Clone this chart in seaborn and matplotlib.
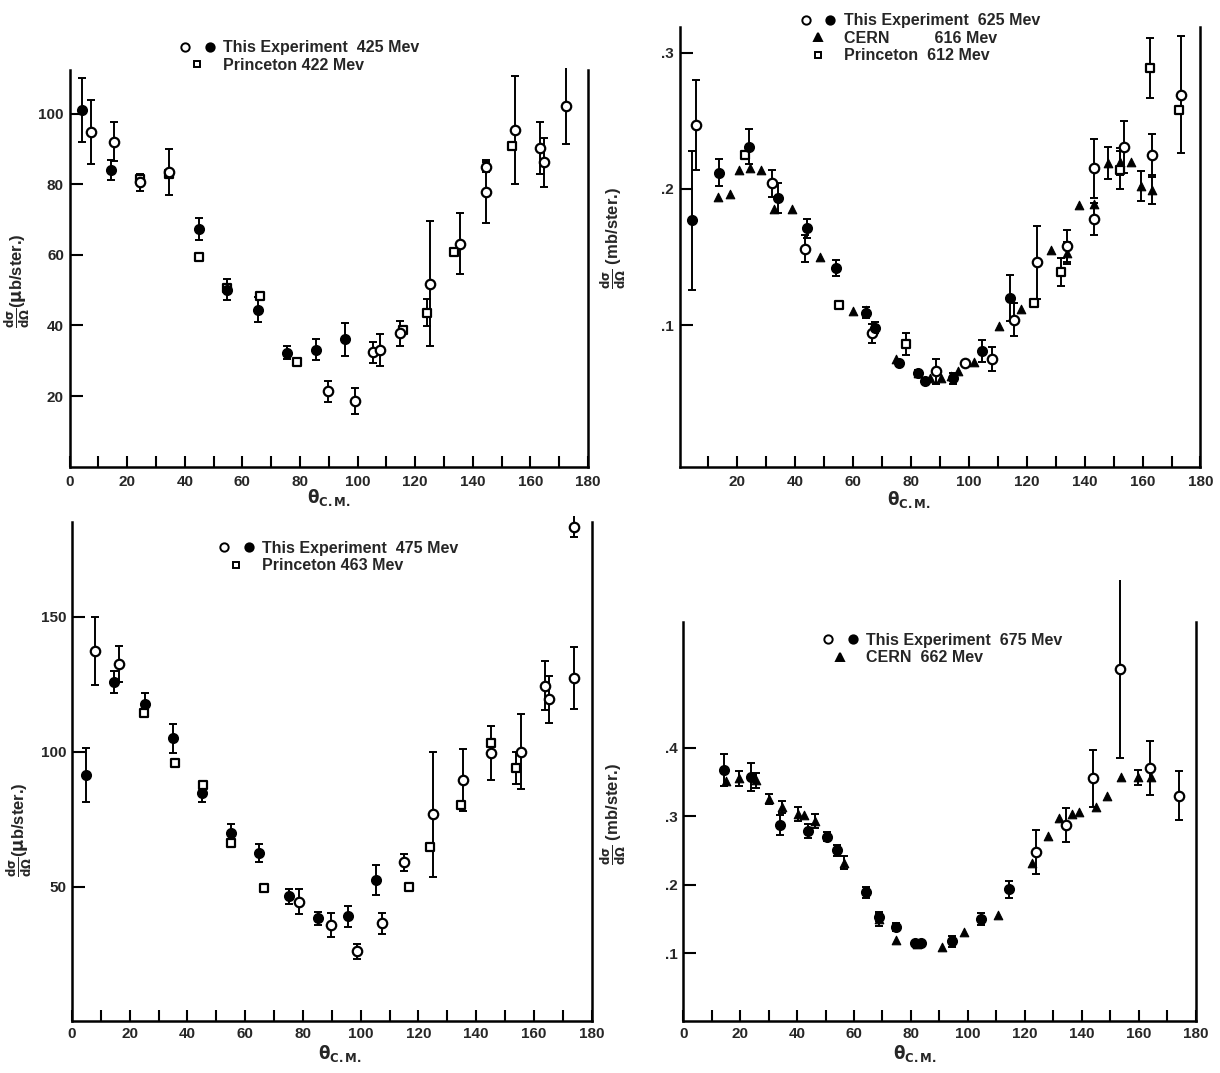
import numpy as np
import pandas as pd
import matplotlib
matplotlib.use("Agg")
import matplotlib.pyplot as plt
import seaborn as sns
from matplotlib.lines import Line2D
from matplotlib.legend_handler import HandlerTuple

# ---- 425 Mev panel ----
exp425_filled_x = [4.4, 14.5, 45.0, 54.6, 65.4, 75.6, 85.6, 95.5]
exp425_filled_y = [101.0, 84.0, 67.4, 50.1, 44.5, 32.3, 33.1, 36.1]
exp425_filled_err = [9.0, 2.8, 3.1, 3.0, 3.5, 1.9, 3.0, 4.7]
exp425_open_x = [7.5, 15.6, 24.4, 34.4, 89.7, 99.2, 105.3, 107.7, 114.8, 125.1,
                 135.4, 144.5, 144.6, 154.6, 163.3, 164.6, 172.4]
exp425_open_y = [94.8, 92.0, 80.5, 83.5, 21.4, 18.7, 32.4, 33.0, 37.8, 51.8,
                 63.2, 84.9, 77.9, 95.3, 90.2, 86.2, 102.2]
exp425_open_err = [9.0, 5.5, 2.3, 6.5, 3.0, 3.7, 3.0, 4.5, 3.6, 17.7,
                   8.6, 1.5, 9.0, 15.3, 7.3, 7.0, 10.8]
prin422_x = [24.4, 34.4, 45.0, 54.6, 66.0, 79.0, 115.6, 124.0, 133.6, 153.5]
prin422_y = [81.5, 83.0, 59.3, 50.5, 48.3, 29.7, 38.6, 43.6, 60.9, 90.8]
prin422_err = [0, 0, 0, 0, 0, 0, 0, 3.8, 0, 0]

# ---- 625 Mev panel ----
exp625_filled_x = [4.35, 13.8, 23.9, 34.0, 44.0, 54.0, 64.3, 67.4, 76.0, 82.5,
                   84.8, 94.5, 104.5, 114.1]
exp625_filled_y = [0.177, 0.212, 0.231, 0.193, 0.171, 0.142, 0.109, 0.098, 0.072,
                   0.065, 0.059, 0.061, 0.081, 0.120]
exp625_filled_err = [0.051, 0.010, 0.013, 0.011, 0.007, 0.006, 0.004, 0.004, 0.002,
                     0.002, 0.002, 0.004, 0.008, 0.017]
exp625_open_x = [5.6, 31.9, 43.5, 66.5, 88.5, 98.7, 108.1, 115.6, 123.6, 134.0,
                 143.2, 143.2, 153.5, 163.4, 173.2]
exp625_open_y = [0.247, 0.204, 0.156, 0.094, 0.066, 0.072, 0.075, 0.104, 0.146,
                 0.158, 0.215, 0.178, 0.231, 0.225, 0.269]
exp625_open_err = [0.033, 0.010, 0.010, 0.007, 0.009, 0, 0.009, 0.012, 0.027,
                   0.012, 0.022, 0.012, 0.019, 0.015, 0.043]
cern616_x = [13.2, 17.5, 20.7, 24.3, 28.0, 32.8, 38.9, 48.4, 59.8, 64.4, 74.9,
             82.5, 86.6, 90.4, 93.9, 96.1, 101.6, 110.4, 118.1, 128.3, 133.8,
             138.1, 143.3, 148.0, 152.1, 155.9, 159.6, 163.4]
cern616_y = [0.194, 0.196, 0.214, 0.215, 0.214, 0.185, 0.185, 0.150, 0.110, 0.111,
             0.075, 0.065, 0.061, 0.061, 0.063, 0.066, 0.073, 0.099, 0.112, 0.155,
             0.153, 0.188, 0.189, 0.219, 0.220, 0.220, 0.202, 0.199]
cern616_err = [0, 0, 0, 0, 0, 0, 0, 0, 0, 0, 0, 0, 0, 0, 0, 0, 0, 0, 0, 0,
               0.008, 0, 0, 0.012, 0.010, 0, 0.011, 0.010]
prin612_x = [22.7, 55.2, 78.4, 122.6, 131.7, 152.1, 162.6, 172.5]
prin612_y = [0.225, 0.115, 0.086, 0.116, 0.139, 0.214, 0.289, 0.258]
prin612_err = [0, 0, 0.008, 0, 0.010, 0.014, 0.022, 0]

# ---- 475 Mev panel ----
exp475_filled_x = [4.8, 14.7, 25.2, 35.0, 45.0, 55.2, 64.8, 75.3, 85.2, 95.5, 105.4]
exp475_filled_y = [91.3, 125.7, 117.7, 104.9, 84.7, 69.7, 62.4, 46.4, 38.3, 38.9, 52.3]
exp475_filled_err = [10.0, 4.0, 3.8, 5.3, 3.3, 3.3, 3.4, 2.8, 2.4, 3.8, 5.5]
exp475_open_x = [7.9, 16.4, 78.7, 89.7, 98.6, 107.5, 115.0, 125.2, 135.3, 145.0,
                 155.5, 163.9, 165.3, 173.9, 173.9]
exp475_open_y = [137.3, 132.4, 44.3, 35.7, 26.0, 36.4, 58.9, 76.7, 89.3, 99.6,
                 100.0, 124.4, 119.3, 183.3, 127.1]
exp475_open_err = [12.6, 6.8, 4.6, 4.5, 2.8, 3.9, 3.3, 23.0, 11.5, 10.0,
                   14.0, 9.0, 8.6, 4.0, 11.5]
prin463_x = [25.0, 35.7, 45.3, 55.2, 66.4, 116.6, 124.1, 134.6, 145.2, 153.8]
prin463_y = [114.4, 95.6, 87.7, 66.0, 49.3, 50.0, 64.7, 80.3, 103.3, 94.0]
prin463_err = [0, 0, 0, 0, 0, 0, 0, 0, 0, 6.0]

# ---- 675 Mev panel ----
exp675_filled_x = [14.3, 23.8, 34.0, 43.9, 50.5, 53.9, 64.1, 68.7, 74.6, 81.4,
                   83.4, 94.3, 104.5, 114.4]
exp675_filled_y = [0.367, 0.357, 0.287, 0.278, 0.270, 0.250, 0.189, 0.152, 0.138,
                   0.114, 0.114, 0.117, 0.150, 0.193]
exp675_filled_err = [0.023, 0.021, 0.015, 0.010, 0.007, 0.008, 0.008, 0.005, 0.006,
                     0, 0, 0.008, 0.009, 0.012]
exp675_open_x = [123.9, 134.4, 143.9, 153.5, 164.1, 174.3]
exp675_open_y = [0.248, 0.287, 0.355, 0.515, 0.370, 0.330]
exp675_open_err = [0.032, 0.025, 0.042, 0.130, 0.039, 0.036]
cern662_x = [15.1, 19.7, 25.6, 30.3, 34.7, 40.5, 42.3, 46.4, 56.5, 68.7, 74.8,
             82.0, 90.9, 98.8, 110.6, 122.6, 128.3, 132.1, 136.5, 139.2, 144.9,
             149.0, 153.7, 159.6, 164.4]
cern662_y = [0.351, 0.355, 0.352, 0.325, 0.313, 0.303, 0.302, 0.293, 0.232, 0.150,
             0.119, 0.113, 0.109, 0.130, 0.155, 0.231, 0.271, 0.297, 0.303, 0.306,
             0.314, 0.330, 0.357, 0.357, 0.357]
cern662_err = [0, 0.011, 0.011, 0.008, 0.009, 0.010, 0, 0.010, 0.009, 0.010, 0,
               0, 0, 0, 0, 0, 0, 0, 0, 0, 0, 0, 0, 0.011, 0]

sns.set_theme(style="ticks")
plt.rcParams["font.family"] = ["Liberation Sans", "DejaVu Sans"]
plt.rcParams["font.weight"] = "bold"
plt.rcParams["mathtext.fontset"] = "dejavusans"

MARK = {
    "filled": dict(marker="o", s=46, color="black", edgecolor="black", linewidth=1.2),
    "open": dict(marker="o", s=46, color="white", edgecolor="black", linewidth=1.6),
    "square": dict(marker="s", s=26, color="white", edgecolor="black", linewidth=1.6),
    "triangle": dict(marker="^", s=38, color="black", edgecolor="black", linewidth=0.8),
}


def draw_series(ax, x, y, err, kind):
    df = pd.DataFrame({"theta": x, "xs": y, "err": err})
    bars = df[df["err"] > 0]
    ax.errorbar(bars["theta"], bars["xs"], yerr=bars["err"], fmt="none",
                ecolor="black", elinewidth=1.4, capsize=3, capthick=1.4, zorder=2)
    sns.scatterplot(data=df, x="theta", y="xs", ax=ax, zorder=3, legend=False,
                    **MARK[kind])


def style_axes(ax, ylim, yticks, ylabels, xticks, ylab, ylab_pos, xlab_pos, xpad=6):
    ax.set_xlim(0, 180)
    ax.set_ylim(*ylim)
    ax.spines["top"].set_visible(False)
    for side in ["left", "bottom", "right"]:
        ax.spines[side].set_linewidth(1.8)
        ax.spines[side].set_color("black")
    ax.set_xticks(xticks)
    ax.set_xticklabels([str(t) for t in xticks])
    ax.set_xticks(np.arange(10, 180, 20), minor=True)
    ax.set_yticks(yticks)
    ax.set_yticklabels(ylabels)
    ax.tick_params(axis="both", which="both", direction="in", width=1.5,
                   labelsize=11, color="black", right=False, top=False)
    ax.tick_params(axis="x", which="both", length=8, pad=xpad)
    ax.tick_params(axis="y", length=9, pad=4)
    for lab in ax.get_xticklabels() + ax.get_yticklabels():
        lab.set_fontweight("bold")
    ax.set_xlabel(r"$\mathbf{\theta}_{\mathbf{C{.}M{.}}}$", fontsize=12)
    ax.xaxis.set_label_coords(*xlab_pos)
    ax.set_ylabel(ylab, fontsize=12, fontweight="bold")
    ax.yaxis.set_label_coords(*ylab_pos)


def add_legend(ax, entries, anchor):
    handles, labels = [], []
    for kinds, text in entries:
        parts = []
        for k in kinds:
            m = MARK[k]
            parts.append(Line2D([], [], linestyle="none", marker=m["marker"],
                                markersize=6 if m["marker"] != "s" else 5,
                                markerfacecolor=m["color"], markeredgecolor="black",
                                markeredgewidth=1.4))
        handles.append(tuple(parts))
        labels.append(text)
    ax.legend(handles, labels, loc="upper left", bbox_to_anchor=anchor,
              frameon=False, handler_map={tuple: HandlerTuple(ndivide=None, pad=0.9)},
              prop={"weight": "bold", "size": 11.5}, handlelength=2.2,
              handletextpad=0.5, labelspacing=0.15, borderaxespad=0,
              alignment="left")


fig = plt.figure(figsize=(12.2, 10.73), dpi=100)

ylab_ub = r"$\frac{\mathbf{d\sigma}}{\mathbf{d\Omega}}$($\mathbf{\mu}$b/ster.)"
ylab_mb = r"$\frac{\mathbf{d\sigma}}{\mathbf{d\Omega}}$ (mb/ster.)"
xt_full = list(range(0, 181, 20))

# top-left: 425 Mev
ax1 = fig.add_axes([0.057, 0.565, 0.425, 0.370])
draw_series(ax1, prin422_x, prin422_y, prin422_err, "square")
draw_series(ax1, exp425_open_x, exp425_open_y, exp425_open_err, "open")
draw_series(ax1, exp425_filled_x, exp425_filled_y, exp425_filled_err, "filled")
style_axes(ax1, (0, 112.4), [20, 40, 60, 80, 100], ["20", "40", "60", "80", "100"],
           xt_full, ylab_ub, (-0.072, 0.47), (0.5, -0.052))
add_legend(ax1, [(("open", "filled"), "This Experiment  425 Mev"),
                 (("square",), "Princeton 422 Mev")], (0.2, 1.09))

# top-right: 625 Mev
ax2 = fig.add_axes([0.557, 0.565, 0.427, 0.410])
draw_series(ax2, cern616_x, cern616_y, cern616_err, "triangle")
draw_series(ax2, prin612_x, prin612_y, prin612_err, "square")
draw_series(ax2, exp625_open_x, exp625_open_y, exp625_open_err, "open")
draw_series(ax2, exp625_filled_x, exp625_filled_y, exp625_filled_err, "filled")
style_axes(ax2, (-0.004, 0.319), [0.1, 0.2, 0.3], [".1", ".2", ".3"],
           xt_full[1:], ylab_mb, (-0.098, 0.52), (0.44, -0.05))
add_legend(ax2, [(("open", "filled"), "This Experiment  625 Mev"),
                 (("triangle",), "CERN          616 Mev"),
                 (("square",), "Princeton  612 Mev")], (0.22, 1.045))

# bottom-left: 475 Mev
ax3 = fig.add_axes([0.059, 0.048, 0.426, 0.4655])
draw_series(ax3, prin463_x, prin463_y, prin463_err, "square")
draw_series(ax3, exp475_open_x, exp475_open_y, exp475_open_err, "open")
draw_series(ax3, exp475_filled_x, exp475_filled_y, exp475_filled_err, "filled")
style_axes(ax3, (0, 185), [50, 100, 150], ["50", "100", "150"],
           xt_full, ylab_ub, (-0.074, 0.385), (0.515, -0.043), xpad=4)
add_legend(ax3, [(("open", "filled"), "This Experiment  475 Mev"),
                 (("square",), "Princeton 463 Mev")], (0.27, 0.975))

# bottom-right: 675 Mev
ax4 = fig.add_axes([0.560, 0.048, 0.420, 0.372])
draw_series(ax4, cern662_x, cern662_y, cern662_err, "triangle")
draw_series(ax4, exp675_open_x, exp675_open_y, exp675_open_err, "open")
draw_series(ax4, exp675_filled_x, exp675_filled_y, exp675_filled_err, "filled")
style_axes(ax4, (0, 0.583), [0.1, 0.2, 0.3, 0.4], [".1", ".2", ".3", ".4"],
           xt_full, ylab_mb, (-0.107, 0.52), (0.453, -0.054), xpad=4)
add_legend(ax4, [(("open", "filled"), "This Experiment  675 Mev"),
                 (("triangle",), "CERN  662 Mev")], (0.26, 0.99))

for ax in [ax1, ax2, ax3, ax4]:
    for coll in ax.collections:
        coll.set_clip_on(False)

fig.savefig("out.png", dpi=100)
